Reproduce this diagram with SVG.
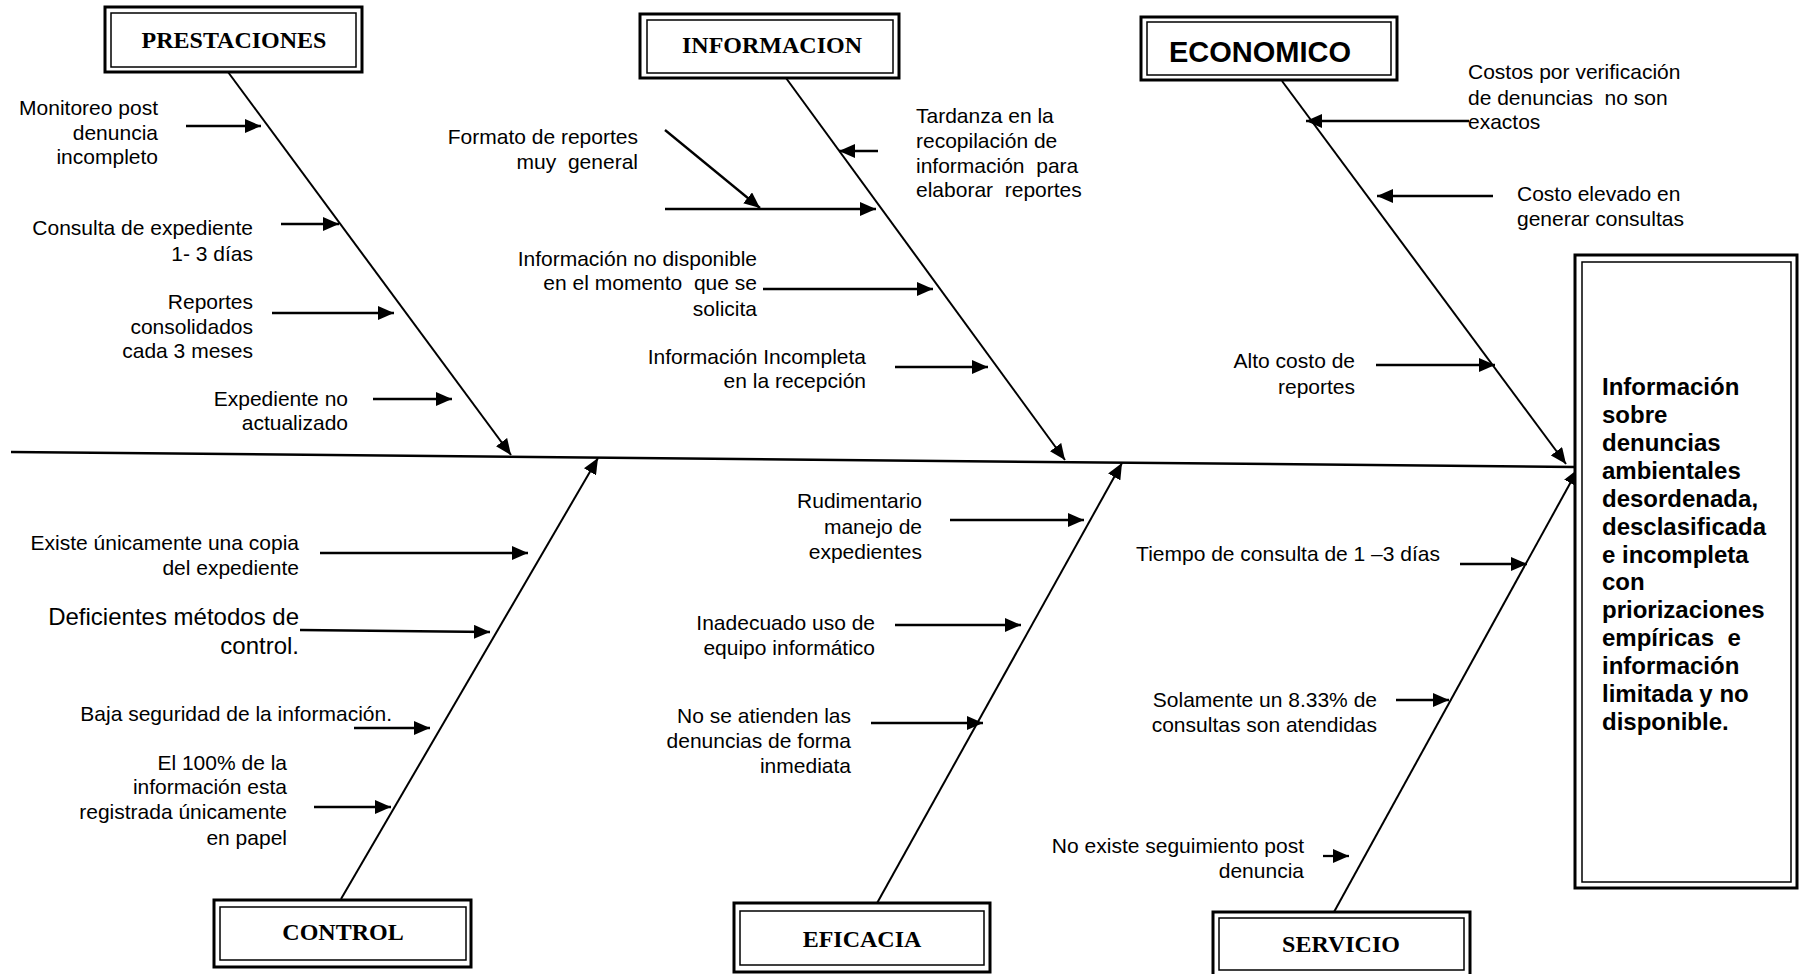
<svg xmlns="http://www.w3.org/2000/svg" width="1799" height="974" viewBox="0 0 1799 974">
  <defs>
    <style>
      .t { font-family: "Liberation Sans", Arial, sans-serif; font-size: 21px; fill: #000; }
      .r { text-anchor: end; }
      .big { font-size: 24px; }
      .h { font-family: "Liberation Serif", "Times New Roman", serif; font-weight: bold; font-size: 24px; text-anchor: middle; fill: #000; }
      .hs { font-family: "Liberation Sans", Arial, sans-serif; font-weight: bold; font-size: 29px; text-anchor: middle; fill: #000; }
      .e { font-family: "Liberation Sans", Arial, sans-serif; font-weight: bold; font-size: 24px; fill: #000; }
      .bo { fill: #fff; stroke: #000; stroke-width: 3; }
      .bi { fill: none; stroke: #000; stroke-width: 1.5; }
      .spine { stroke: #000; stroke-width: 2.5; fill: none; }
      .bone { stroke: #000; stroke-width: 2; fill: none; marker-end: url(#ah); }
      .ar { stroke: #000; stroke-width: 2.3; fill: none; marker-end: url(#ah); }
    </style>
    <marker id="ah" markerUnits="userSpaceOnUse" markerWidth="17" markerHeight="14" refX="16" refY="7" orient="auto">
      <path d="M0,0 L16,7 L0,14 Z" fill="#000"/>
    </marker>
  </defs>

  <rect width="1799" height="974" fill="#fff"/>

  <!-- spine, category bones and cause arrows -->
  <g id="connectors">
    <line class="spine" x1="11" y1="452" x2="1575" y2="467"/>

    <line class="bone" x1="228" y1="72" x2="511" y2="455"/>
    <line class="bone" x1="786" y1="78" x2="1065" y2="460"/>
    <line class="bone" x1="1282" y1="81" x2="1566" y2="464"/>
    <line class="bone" x1="341" y1="899" x2="598" y2="458"/>
    <line class="bone" x1="876" y1="905" x2="1122" y2="463"/>
    <line class="bone" x1="1334" y1="912" x2="1578" y2="469"/>

    <!-- PRESTACIONES causes -->
    <line class="ar" x1="186" y1="126" x2="261" y2="126"/>
    <line class="ar" x1="281" y1="224" x2="339" y2="224"/>
    <line class="ar" x1="272" y1="313" x2="394" y2="313"/>
    <line class="ar" x1="373" y1="399" x2="452" y2="399"/>

    <!-- INFORMACION causes -->
    <line class="ar" x1="665" y1="130" x2="760" y2="208"/>
    <line class="ar" x1="665" y1="209" x2="876" y2="209"/>
    <line class="ar" x1="878" y1="151" x2="839" y2="151"/>
    <line class="ar" x1="763" y1="289" x2="933" y2="289"/>
    <line class="ar" x1="895" y1="367" x2="988" y2="367"/>

    <!-- ECONOMICO causes -->
    <line class="ar" x1="1469" y1="121" x2="1306" y2="121"/>
    <line class="ar" x1="1493" y1="196" x2="1377" y2="196"/>
    <line class="ar" x1="1376" y1="365" x2="1495" y2="365"/>

    <!-- CONTROL causes -->
    <line class="ar" x1="320" y1="553" x2="528" y2="553"/>
    <line class="ar" x1="300" y1="630" x2="490" y2="632"/>
    <line class="ar" x1="354" y1="728" x2="430" y2="728"/>
    <line class="ar" x1="314" y1="807" x2="391" y2="807"/>

    <!-- EFICACIA causes -->
    <line class="ar" x1="950" y1="520" x2="1084" y2="520"/>
    <line class="ar" x1="895" y1="625" x2="1021" y2="625"/>
    <line class="ar" x1="871" y1="723" x2="983" y2="723"/>

    <!-- SERVICIO causes -->
    <line class="ar" x1="1460" y1="564" x2="1527" y2="564"/>
    <line class="ar" x1="1396" y1="700" x2="1449" y2="700"/>
    <line class="ar" x1="1323" y1="856" x2="1349" y2="856"/>
  </g>

  <g id="prestaciones">
    <rect class="bo" x="105" y="7" width="257" height="65"/>
    <rect class="bi" x="111" y="13" width="245" height="54"/>
    <text class="h" x="234" y="48">PRESTACIONES</text>
    <text class="t r"><tspan x="158" y="115">Monitoreo post</tspan><tspan x="158" y="140">denuncia</tspan><tspan x="158" y="164">incompleto</tspan></text>
    <text class="t r"><tspan x="253" y="235">Consulta de expediente</tspan><tspan x="253" y="261">1- 3 días</tspan></text>
    <text class="t r"><tspan x="253" y="309">Reportes</tspan><tspan x="253" y="334">consolidados</tspan><tspan x="253" y="358">cada 3 meses</tspan></text>
    <text class="t r"><tspan x="348" y="406">Expediente no</tspan><tspan x="348" y="430">actualizado</tspan></text>
  </g>

  <g id="informacion">
    <rect class="bo" x="640" y="14" width="259" height="64"/>
    <rect class="bi" x="647" y="20" width="246" height="53"/>
    <text class="h" x="772" y="53">INFORMACION</text>
    <text class="t r" xml:space="preserve"><tspan x="638" y="144">Formato de reportes</tspan><tspan x="638" y="169">muy  general</tspan></text>
    <text class="t" xml:space="preserve"><tspan x="916" y="123">Tardanza en la</tspan><tspan x="916" y="148">recopilación de</tspan><tspan x="916" y="173">información  para</tspan><tspan x="916" y="197">elaborar  reportes</tspan></text>
    <text class="t r" xml:space="preserve"><tspan x="757" y="266">Información no disponible</tspan><tspan x="757" y="290">en el momento  que se</tspan><tspan x="757" y="316">solicita</tspan></text>
    <text class="t r"><tspan x="866" y="364">Información Incompleta</tspan><tspan x="866" y="388">en la recepción</tspan></text>
  </g>

  <g id="economico">
    <rect class="bo" x="1141" y="17" width="256" height="63"/>
    <rect class="bi" x="1147" y="22" width="244" height="53"/>
    <text class="hs" x="1260" y="62">ECONOMICO</text>
    <text class="t" xml:space="preserve"><tspan x="1468" y="79">Costos por verificación</tspan><tspan x="1468" y="105">de denuncias  no son</tspan><tspan x="1468" y="129">exactos</tspan></text>
    <text class="t"><tspan x="1517" y="201">Costo elevado en</tspan><tspan x="1517" y="226">generar consultas</tspan></text>
    <text class="t r"><tspan x="1355" y="368">Alto costo de</tspan><tspan x="1355" y="394">reportes</tspan></text>
  </g>

  <g id="control">
    <rect class="bo" x="214" y="900" width="257" height="67"/>
    <rect class="bi" x="220" y="907" width="246" height="53"/>
    <text class="h" x="343" y="940">CONTROL</text>
    <text class="t r"><tspan x="299" y="550">Existe únicamente una copia</tspan><tspan x="299" y="575">del expediente</tspan></text>
    <text class="t r big"><tspan x="299" y="625">Deficientes métodos de</tspan><tspan x="299" y="654">control.</tspan></text>
    <text class="t r"><tspan x="392" y="721">Baja seguridad de la información.</tspan></text>
    <text class="t r"><tspan x="287" y="770">El 100% de la</tspan><tspan x="287" y="794">información esta</tspan><tspan x="287" y="819">registrada únicamente</tspan><tspan x="287" y="845">en papel</tspan></text>
  </g>

  <g id="eficacia">
    <rect class="bo" x="734" y="903" width="256" height="69"/>
    <rect class="bi" x="740" y="911" width="244" height="54"/>
    <text class="h" x="862" y="947">EFICACIA</text>
    <text class="t r"><tspan x="922" y="508">Rudimentario</tspan><tspan x="922" y="534">manejo de</tspan><tspan x="922" y="559">expedientes</tspan></text>
    <text class="t r"><tspan x="875" y="630">Inadecuado uso de</tspan><tspan x="875" y="655">equipo informático</tspan></text>
    <text class="t r"><tspan x="851" y="723">No se atienden las</tspan><tspan x="851" y="748">denuncias de forma</tspan><tspan x="851" y="773">inmediata</tspan></text>
  </g>

  <g id="servicio">
    <rect class="bo" x="1213" y="912" width="257" height="66"/>
    <rect class="bi" x="1219" y="918" width="245" height="52"/>
    <text class="h" x="1341" y="952">SERVICIO</text>
    <text class="t r"><tspan x="1440" y="561">Tiempo de consulta de 1 –3 días</tspan></text>
    <text class="t r"><tspan x="1377" y="707">Solamente un 8.33% de</tspan><tspan x="1377" y="732">consultas son atendidas</tspan></text>
    <text class="t r"><tspan x="1304" y="853">No existe seguimiento post</tspan><tspan x="1304" y="878">denuncia</tspan></text>
  </g>

  <g id="efecto">
    <rect class="bo" x="1575" y="255" width="222" height="633"/>
    <rect class="bi" x="1582" y="262" width="209" height="620"/>
    <text class="e" xml:space="preserve"><tspan x="1602" y="395">Información</tspan><tspan x="1602" y="423">sobre</tspan><tspan x="1602" y="451">denuncias</tspan><tspan x="1602" y="479">ambientales</tspan><tspan x="1602" y="507">desordenada,</tspan><tspan x="1602" y="535">desclasificada</tspan><tspan x="1602" y="563">e incompleta</tspan><tspan x="1602" y="590">con</tspan><tspan x="1602" y="618">priorizaciones</tspan><tspan x="1602" y="646">empíricas  e</tspan><tspan x="1602" y="674">información</tspan><tspan x="1602" y="702">limitada y no</tspan><tspan x="1602" y="730">disponible.</tspan></text>
  </g>
</svg>
